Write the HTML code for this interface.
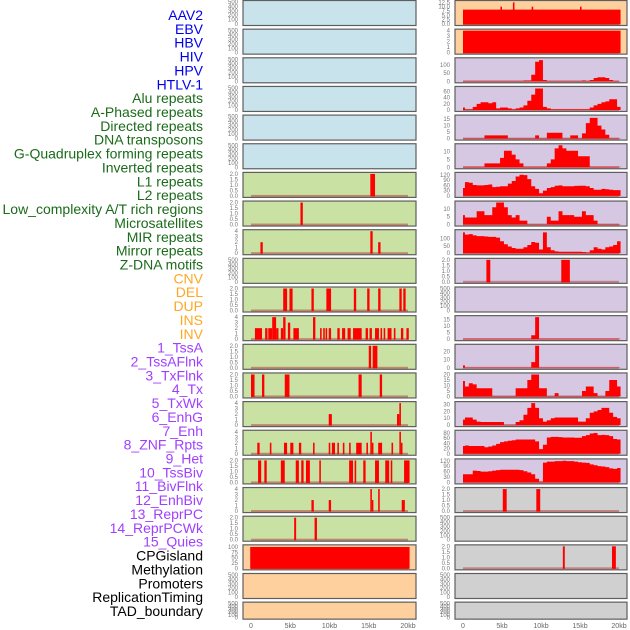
<!DOCTYPE html>
<html><head><meta charset="utf-8"><style>
html,body{margin:0;padding:0;background:#fff;}
svg{display:block;font-family:"Liberation Sans",sans-serif;}
</style></head><body>
<svg id="chart" width="630" height="630" viewBox="0 0 630 630"></svg>
<script>
// ---- data ----
const trackLabels = ["AAV2","EBV","HBV","HIV","HPV","HTLV-1","Alu repeats","A-Phased repeats","Directed repeats","DNA transposons","G-Quadruplex forming repeats","Inverted repeats","L1 repeats","L2 repeats","Low_complexity A/T rich regions","Microsatellites","MIR repeats","Mirror repeats","Z-DNA motifs","CNV","DEL","DUP","INS","INV","1_TssA","2_TssAFlnk","3_TxFlnk","4_Tx","5_TxWk","6_EnhG","7_Enh","8_ZNF_Rpts","9_Het","10_TssBiv","11_BivFlnk","12_EnhBiv","13_ReprPC","14_ReprPCWk","15_Quies","CPGisland","Methylation","Promoters","ReplicationTiming","TAD_boundary"];
const labelGroups = [0,0,0,0,0,0,1,1,1,1,1,1,1,1,1,1,1,1,1,2,2,2,2,2,3,3,3,3,3,3,3,3,3,3,3,3,3,3,3,4,4,4,4,4];
const groupColors = ["#0000ee","#1a6b1a","#ffa726","#a040ff","#000000"];

const xTickKb = [0,5,10,15,20];
const xTickLabels = ["0","5kb","10kb","15kb","20kb"];

const T500 = [0,100,200,300,400,500];
const T2 = [0,0.5,1,1.5,2];
const T4 = [0,1,2,3,4];

const leftBg = ["#c9e3ec","#c9e3ec","#c9e3ec","#c9e3ec","#c9e3ec","#c9e3ec","#c9e2a4","#c9e2a4","#c9e2a4","#c9e2a4","#c9e2a4","#c9e2a4","#c9e2a4","#c9e2a4","#c9e2a4","#c9e2a4","#c9e2a4","#c9e2a4","#c9e2a4","#fdd09e","#fdd09e","#fdd09e"];
const rightBg = ["#fdd09e","#fdd09e","#d6c7e3","#d6c7e3","#d6c7e3","#d6c7e3","#d6c7e3","#d6c7e3","#d6c7e3","#d6c7e3","#d6c7e3","#d6c7e3","#d6c7e3","#d6c7e3","#d6c7e3","#d6c7e3","#d6c7e3","#d0d0d0","#d0d0d0","#d0d0d0","#d0d0d0","#d0d0d0"];

const leftTicks = [T500,T500,T500,T500,T500,T500,T2,T2,T4,T500,T2,T4,T2,T2,T4,T4,T2,T4,T2,[0,25,50,75,100],T500,T500];
const leftMax = [500,500,500,500,500,500,2,2,4,500,2,4,2,2,4,4,2,4,2,103,500,500];
const leftBars = [
 [],[],[],[],[],[],
 [[15.2,15.8,2]],
 [[6.3,6.6,2]],
 [[1.2,1.5,2],[15.2,15.5,4],[16.2,16.5,2]],
 [],
 [[4.1,4.6,2],[4.9,5.3,2],[7.7,8.0,2],[9.6,10.2,2],[13.1,13.4,2],[14.8,15.1,2],[16.2,16.5,2],[18.9,19.2,2],[19.4,19.7,2]],
 [[0.5,1.4,2],[1.8,2.1,2],[2.2,2.7,2],[2.7,3.2,4],[3.2,3.5,2],[3.8,4.1,2],[4.1,4.4,4],[4.7,5.0,3],[5.4,6.1,2],[7.9,8.2,4],[8.8,9.0,2],[9.2,9.4,2],[9.5,9.7,2],[9.9,10.2,2],[11.0,11.3,2],[11.6,12.0,2],[12.3,12.7,2],[13.0,14.1,2],[14.6,14.9,2],[15.1,15.4,2],[15.8,16.3,2],[16.5,16.7,2],[16.9,17.1,2],[17.4,17.9,2],[18.2,18.4,2],[19.1,19.4,2],[19.8,20.1,2]],
 [[15.0,15.3,2],[15.5,16.1,2]],
 [[0,0.45,2],[1.4,1.7,2],[4.3,4.9,2],[13.7,14.1,2],[16.4,16.7,2]],
 [[9.9,10.3,2],[18.6,18.9,2],[18.9,19.1,4]],
 [[0.8,1.1,2],[2.4,2.6,2],[4.2,4.6,2],[5.0,5.4,2],[6.1,6.4,2],[7.9,8.1,2],[9.9,10.1,2],[10.3,10.7,2],[11.0,11.2,2],[11.7,11.9,2],[12.5,12.7,2],[13.4,14.1,2],[14.7,14.9,2],[15.2,15.4,4],[15.4,15.6,2],[16.2,16.7,2],[17.9,18.1,2],[18.9,19.1,4],[19.1,19.3,2]],
 [[0.9,1.3,2],[1.7,2.0,2],[3.8,4.3,2],[5.7,6.1,2],[6.4,6.7,2],[7.0,7.5,2],[8.7,8.9,2],[12.5,13.0,2],[13.2,13.4,2],[14.3,14.6,2],[15.8,16.3,2],[17.1,17.6,2],[17.8,18.0,2],[19.5,20.2,2]],
 [[7.7,8.0,2],[9.9,10.2,2],[15.2,15.4,4],[15.4,15.5,2],[16.2,16.4,4],[19.2,19.6,2]],
 [[5.5,5.75,2],[8.1,8.4,2]],
 [[-0.1,20.2,100]],
 [],[]
];

const rightTicks = [[0,2.5,5,7.5,10,12.5],T4,[0,50,100],[0,20,40,60],[0,5,10,15],[0,5,10],[0,30,60,90,120],[0,5,10],[0,50,100],T2,T500,[0,5,10,15],[0,10,20],[0,5,10,15,20],[0,10,20,30],[0,20,40,60,80],[0,30,60,90,120],T2,T500,T2,T500,T500];
const rightMax = [12.7,4,135,72,17,14,125,14,148,2,500,17,27,20,32,85,122,2,500,2,500,500];
const rightBars = {
 0: [[0,20.2,8.3],[4.8,5.0,10],[6.4,6.6,12.5],[8.8,9.0,10],[15.0,15.2,10]],
 1: [[0,20.2,4]],
 9: [[3.0,3.5,2],[12.6,13.7,2]],
 17: [[5.1,5.6,2],[9.4,9.9,2]],
 19: [[12.8,13.05,2],[19.1,19.6,2]]
};
// profiles: values every 0.5kb from 0 to 20kb (41 bins)
const hivProfile = [2,2,2,2,2,2,2,2,2,2,2,2,2,2,2,2,5,5,40,120,130,8,2,2,2,2,2,2,2,2,2,5,2,8,20,25,25,20,8,2,2];
const aluProfile = [8,2,2,10,20,25,25,22,25,5,8,8,5,2,5,8,15,30,50,70,70,10,5,2,2,2,2,2,2,2,2,2,2,8,15,20,25,28,35,35,10];
const directedProfile = [0.3,0.3,0.3,0.3,0.3,0.3,2.5,2.5,2.5,2.5,2.5,2.5,0.3,0.3,0.3,0.3,0.3,0.3,0.3,2.5,0.3,0.3,4.5,4.5,4.5,4.5,0.3,0.3,2.5,2.5,0.3,4,12,16,16,10,7,3,0.3,0.3,0.3];
const dnaTransProfile = [0.3,0.3,0.3,0.3,0.3,0.3,2.5,2.5,2.5,2.5,6,10.5,10.5,8,5,2.5,0.3,0.3,0.3,0.3,0.3,0.3,2.5,5,12,14,12,10.5,10.5,10.5,7,7,7,0.3,0.3,0.3,0.3,0.3,0.3,0.3,0.3];
const l1Profile = [45,78,75,62,60,60,62,65,50,52,55,55,70,85,110,120,118,95,55,40,15,30,45,50,58,60,55,55,55,57,58,58,55,45,35,35,40,38,35,33,33];
const l2Profile = [6,4.5,4.5,4.5,8.5,8.5,6,6,11,14,14,11,6,4.5,6,2.5,2.5,0.3,0.3,0.3,0.3,0.3,5,2.5,2.5,8.5,6,6,6,5,5,8.5,6,6,2.5,0.3,0.3,0.3,0.3,0.3,0.3];
const lowCompProfile = [140,125,128,120,115,115,112,110,110,105,80,60,45,35,30,30,40,55,75,70,25,140,40,20,12,10,10,10,10,10,10,8,5,20,40,30,25,40,45,55,80];
const zdnaProfile = [0.3,0.3,0.3,0.3,0.3,0.3,0.3,0.3,0.3,0.3,0.3,0.3,0.3,0.3,0.3,0.3,0.3,0.3,3,17,0.3,0.3,0.3,0.3,0.3,0.3,0.3,0.3,0.3,0.3,0.3,0.3,0.3,0.3,0.3,0.3,0.3,0.3,0.3,0.3,0.3];
const tssaProfile = [3,0.3,0.3,0.3,0.3,0.3,0.3,0.3,0.3,0.3,0.3,0.3,0.3,0.3,0.3,0.3,0.3,0.3,7,27,0.3,0.3,0.3,0.3,0.3,0.3,0.3,0.3,0.3,0.3,0.3,0.3,0.3,0.3,0.3,0.3,0.3,0.3,0.3,0.3,0.3];
const tssFlnkProfile = [14,9,12,11,7.5,7.5,7.5,7.5,0.3,0.3,0.3,0.3,0.3,0.3,7.5,7.5,7.5,15,20,20,7.5,7.5,0.3,0.3,3,0.3,0.3,0.3,0.3,0.3,0.3,5,9,9,3,0.3,0.3,5,15,15,9];
const txProfile = [8,11,11,8,5,4.5,4.5,4.5,4.5,4.5,4.5,0.3,0.3,0.3,4.5,7,15,25,32,25,10,5,7,10,11,11,11,11,11,11,5,5,10,18,20,22,25,25,18,12,10];
const txWkProfile = [30,32,30,30,30,30,25,28,32,38,45,48,50,52,55,55,55,55,55,48,18,35,63,65,65,64,63,63,63,62,62,68,72,78,80,72,73,72,68,57,55];
const znfProfile = [45,45,45,65,63,60,60,62,65,68,70,70,70,70,70,68,62,55,45,20,5,110,115,115,118,118,120,118,118,115,112,110,108,100,95,90,88,85,78,75,80];
const rightProfiles = {2:hivProfile,3:aluProfile,4:directedProfile,5:dnaTransProfile,6:l1Profile,7:l2Profile,8:lowCompProfile,11:zdnaProfile,12:tssaProfile,13:tssFlnkProfile,14:txProfile,15:txWkProfile,16:znfProfile};

// ---- layout ----
const svg = document.getElementById('chart');
const NS = "http://www.w3.org/2000/svg";
function mk(tag, attrs, parent){
  const e = document.createElementNS(NS, tag);
  for (const k in attrs) e.setAttribute(k, attrs[k]);
  (parent||svg).appendChild(e);
  return e;
}
const colL = {x0:243, x1:416, k0:251, k1:408};
const colR = {x0:455, x1:627, k0:463, k1:619};
const rowStep = 28.65;
function rowTop(i){ return i*rowStep + 0.5; }
function rowH(i){ return i===21 ? 17 : 25; }
function xScale(col, kb){ return col.k0 + (col.k1-col.k0)*kb/20; }
function yScale(top, h, v, vmax){ return top + h - 1.5 - (h-3)*Math.min(v,vmax)/vmax; }
function fmt(v, ticks){
  const dec = ticks.some(t=>t%1!==0);
  return dec ? v.toFixed(1) : String(v);
}

// labels
trackLabels.forEach((lab,i)=>{
  const t = mk('text',{x:203,y:15+i*13.86+5,'text-anchor':'end','font-size':'14',fill:groupColors[labelGroups[i]]});
  
  
  t.textContent = lab;
});

function drawPanel(col, i, bg, ticks, vmax, bars, prof, side){
  const top = rowTop(i), h = rowH(i);
  const g = mk('g',{});
  
  
  mk('rect',{x:col.x0,y:top,width:col.x1-col.x0,height:h,fill:bg,stroke:'#5e5e5e','stroke-width':1.2},g);
  ticks.forEach(tv=>{
    const y = yScale(top,h,tv,vmax);
    const t = mk('text',{x:col.x0-5,y:y+2,'text-anchor':'end','font-size':'6',fill:'#777'},g);
    
    
    t.textContent = fmt(tv,ticks);
  });
  const y0 = yScale(top,h,0,vmax);
  if (bars.length || prof){
    const bl = mk('rect',{x:xScale(col,0),y:y0-1,width:xScale(col,20)-xScale(col,0),height:2,fill:'#b04040','fill-opacity':0.55},g);
    
    
  }
  if (prof){
    let d = 'M' + xScale(col,0) + ',' + y0;
    prof.forEach((v,j)=>{
      const xa = xScale(col, Math.max(0,j*0.5-0.25));
      const xb = xScale(col, Math.min(20.2,j*0.5+0.25));
      const y = yScale(top,h,v,vmax);
      d += ' L' + xa + ',' + y + ' L' + xb + ',' + y;
    });
    d += ' L' + xScale(col,20.2) + ',' + y0 + ' Z';
    const p = mk('path',{d:d,fill:'#ff0000'},g);
    
    
  }
  bars.forEach(b=>{
    const xa = xScale(col,b[0]), xb = xScale(col,b[1]);
    const y = yScale(top,h,b[2],vmax);
    const r = mk('rect',{x:xa,y:y,width:Math.max(xb-xa,1.5),height:y0-y+0.5,fill:'#ff0000'},g);
    
    
  });
}
for (let i=0;i<22;i++){
  drawPanel(colL, i, leftBg[i], leftTicks[i], leftMax[i], leftBars[i], null, 'left');
  drawPanel(colR, i, rightBg[i], rightTicks[i], rightMax[i], rightBars[i] || [], rightProfiles[i] || null, 'right');
}
[colL,colR].forEach((col)=>{
  xTickKb.forEach((kb,j)=>{
    const t = mk('text',{x:xScale(col,kb),y:628,'text-anchor':'middle','font-size':'7',fill:'#666'});
    
    
    t.textContent = xTickLabels[j];
  });
});
</script>
</body></html>
